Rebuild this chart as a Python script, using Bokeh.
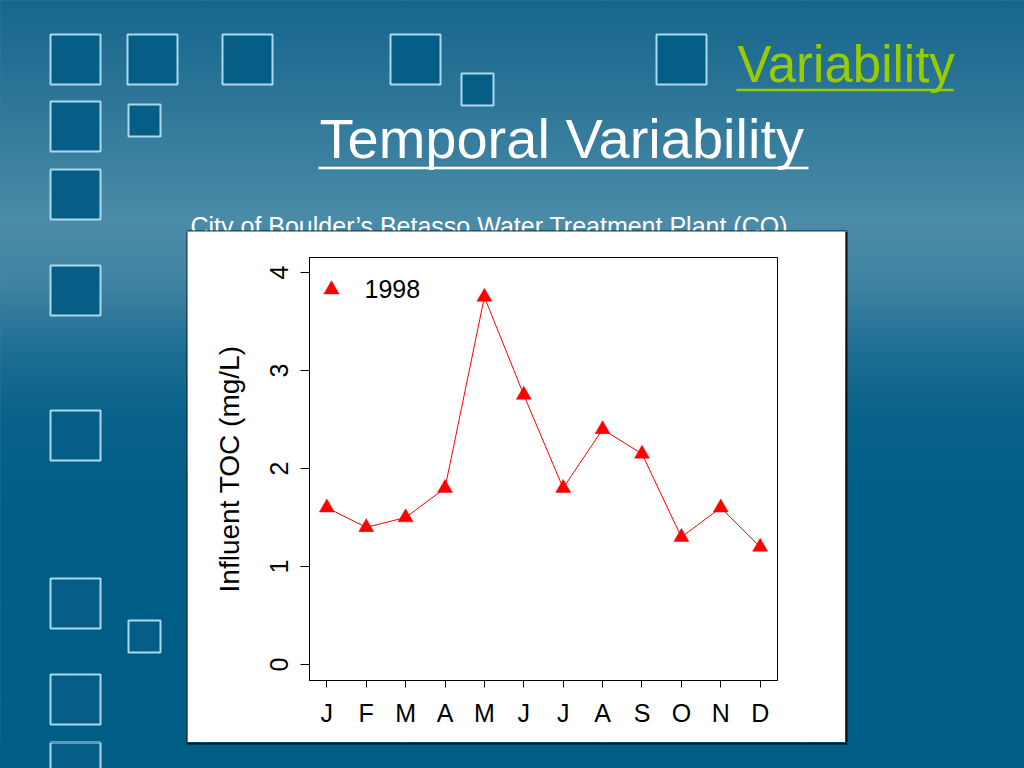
import numpy as np
from bokeh.plotting import figure
from bokeh.models import Range1d, FixedTicker, Legend, LegendItem
from bokeh.layouts import column, row
from bokeh.embed import file_html
from bokeh.resources import INLINE
from bokeh.core.properties import value

# ---------------- data ----------------
months = ["J", "F", "M", "A", "M", "J", "J", "A", "S", "O", "N", "D"]
month_pos = [1, 2, 3, 4, 5, 6, 7, 8, 9, 10, 11, 12]
toc_1998 = [1.6, 1.4, 1.5, 1.8, 3.75, 2.75, 1.8, 2.4, 2.15, 1.3, 1.6, 1.2]
y_ticks = [0, 1, 2, 3, 4]
series_name = "1998"
y_label = "Influent TOC (mg/L)"
title_text = "Temporal Variability"
corner_text = "Variability"
subtitle_text = "City of Boulder\u2019s Betasso Water Treatment Plant (CO)"

FONT = "Liberation Sans"
BASE_K = 0.375  # baseline correction for text glyphs (fraction of font size)

# ---------------- slide decoration ----------------
grad_stops = [(0, (22, 102, 140)), (100, (45, 118, 152)), (220, (75, 139, 168)),
              (280, (65, 132, 163)), (350, (30, 110, 147)), (420, (8, 97, 137)),
              (500, (0, 94, 134)), (780, (0, 94, 134))]

# (left, top, size) in page pixels
squares = [(50, 34, 50), (127, 34, 50), (222, 34, 50), (390, 34, 50), (656, 34, 50),
           (461, 73, 32), (50, 101, 50), (128, 104, 32), (50, 169, 50),
           (50, 265, 50), (50, 410, 50), (50, 578, 50), (128, 620, 32),
           (50, 674, 50), (50, 742, 50)]
SQ_FILL = "#065e87"
SQ_LINE = "#a9d9ef"


def grad_color(y):
    for (ya, ca), (yb, cb) in zip(grad_stops[:-1], grad_stops[1:]):
        if ya <= y <= yb:
            t = (y - ya) / (yb - ya)
            return "#%02x%02x%02x" % tuple(int(round(a + (b - a) * t)) for a, b in zip(ca, cb))
    return "#%02x%02x%02x" % grad_stops[-1][1]


def css_gradient(offset):
    return "linear-gradient(to bottom, " + ", ".join(
        "rgb(%d,%d,%d) %dpx" % (c[0], c[1], c[2], y - offset) for y, c in grad_stops) + ")"


def make_bg(x0, y0, w, h, edge_y):
    p = figure(width=w, height=h, x_range=Range1d(x0, x0 + w), y_range=Range1d(y0 + h, y0),
               output_backend="svg", toolbar_location=None, tools="", min_border=0,
               x_axis_location=None, y_axis_location=None,
               styles={"background": css_gradient(y0)})
    p.frame_align = False
    p.outline_line_color = None
    p.background_fill_color = grad_color(edge_y)
    p.border_fill_color = grad_color(edge_y)
    band = 2
    tops = list(range(y0 - 1, y0 + h + 1, band))
    p.quad(left=x0 - 2, right=x0 + w + 2, top=tops, bottom=[t + band + 0.8 for t in tops],
           fill_color=[grad_color(t + band / 2) for t in tops], line_color=None)
    p.quad(left=[s[0] for s in squares], right=[s[0] + s[2] for s in squares],
           top=[s[1] for s in squares], bottom=[s[1] + s[2] for s in squares],
           fill_color=SQ_FILL, line_color=SQ_LINE, line_width=2)
    return p


def slide_text(p, x, baseline, txt, size, color):
    p.text(x=[x], y=[baseline - BASE_K * size], text=[txt], text_font=value(FONT),
           text_font_size="%dpx" % size, text_color=color,
           text_baseline="alphabetic", text_align="left")


# top band: page y 0..231
top = make_bg(0, 0, 1024, 231, 230)
slide_text(top, 319, 159, title_text, 56, "white")
top.segment(x0=318, y0=167.5, x1=808, y1=167.5, line_color="white", line_width=2.5)
slide_text(top, 737, 83, corner_text, 51, "#99cc00")
top.segment(x0=736, y0=89.5, x1=953, y1=89.5, line_color="#99cc00", line_width=2.5)
slide_text(top, 190, 235, subtitle_text, 25, "white")
top.segment(x0=186, y0=230.5, x1=847, y1=230.5, line_color="#111111", line_width=1)

# middle row: page y 231..742
left = make_bg(0, 231, 187, 511, 232)
left.segment(x0=186.5, y0=231, x1=186.5, y1=742, line_color="#111111", line_width=1)
right = make_bg(845, 231, 179, 511, 232)
right.segment(x0=846, y0=231, x1=846, y1=742, line_color="#111111", line_width=2)

# bottom band: page y 742..768
bottom = make_bg(0, 742, 1024, 26, 742)
bottom.segment(x0=186, y0=743, x1=847, y1=743, line_color="#111111", line_width=2)

# ---------------- chart ----------------
p = figure(width=658, height=511, x_range=Range1d(0.56, 12.44), y_range=Range1d(-0.163, 4.153),
           output_backend="svg", toolbar_location=None, tools="",
           min_border_left=122, min_border_right=68, min_border_top=26, min_border_bottom=62)
p.frame_align = False
p.background_fill_color = "white"
p.border_fill_color = "white"
p.outline_line_color = "black"
p.outline_line_width = 1
p.grid.visible = False

p.xaxis.ticker = FixedTicker(ticks=month_pos)
p.xaxis.major_label_overrides = {pos: m for pos, m in zip(month_pos, months)}
p.yaxis.ticker = FixedTicker(ticks=y_ticks)
p.yaxis.major_label_orientation = "vertical"
p.yaxis.axis_label = y_label

for ax in (p.xaxis, p.yaxis):
    ax.axis_line_color = "black"
    ax.major_tick_line_color = "black"
    ax.minor_tick_line_color = None
    ax.major_tick_in = 0
    ax.major_label_text_font = FONT
    ax.major_label_text_font_size = "25px"
    ax.major_label_text_color = "black"
    ax.axis_label_text_font = FONT
    ax.axis_label_text_font_size = "28px"
    ax.axis_label_text_font_style = "normal"
    ax.axis_label_text_color = "black"

p.xaxis.major_tick_out = 7
p.xaxis.major_label_standoff = 11
p.yaxis.major_tick_out = 9
p.yaxis.major_label_standoff = 12
p.yaxis.axis_label_standoff = 23

p.line(month_pos, toc_1998, line_color="red", line_width=1)
pts = p.scatter(month_pos, toc_1998, marker="triangle", size=15, fill_color="red",
                line_color="red", line_width=0.5)

legend = Legend(items=[LegendItem(label=series_name, renderers=[pts])],
                location=(2.5, 372), padding=0, margin=0, spacing=0,
                glyph_width=38, glyph_height=38, label_height=38, label_standoff=15,
                label_text_font=FONT, label_text_font_size="25px", label_text_color="black",
                border_line_color=None, background_fill_alpha=0)
p.add_layout(legend)

mid = row(left, p, right, styles={"background": css_gradient(231)})
layout = column(top, mid, bottom, styles={"background": css_gradient(0)})
open("out.html", "w").write(file_html(layout, INLINE))
